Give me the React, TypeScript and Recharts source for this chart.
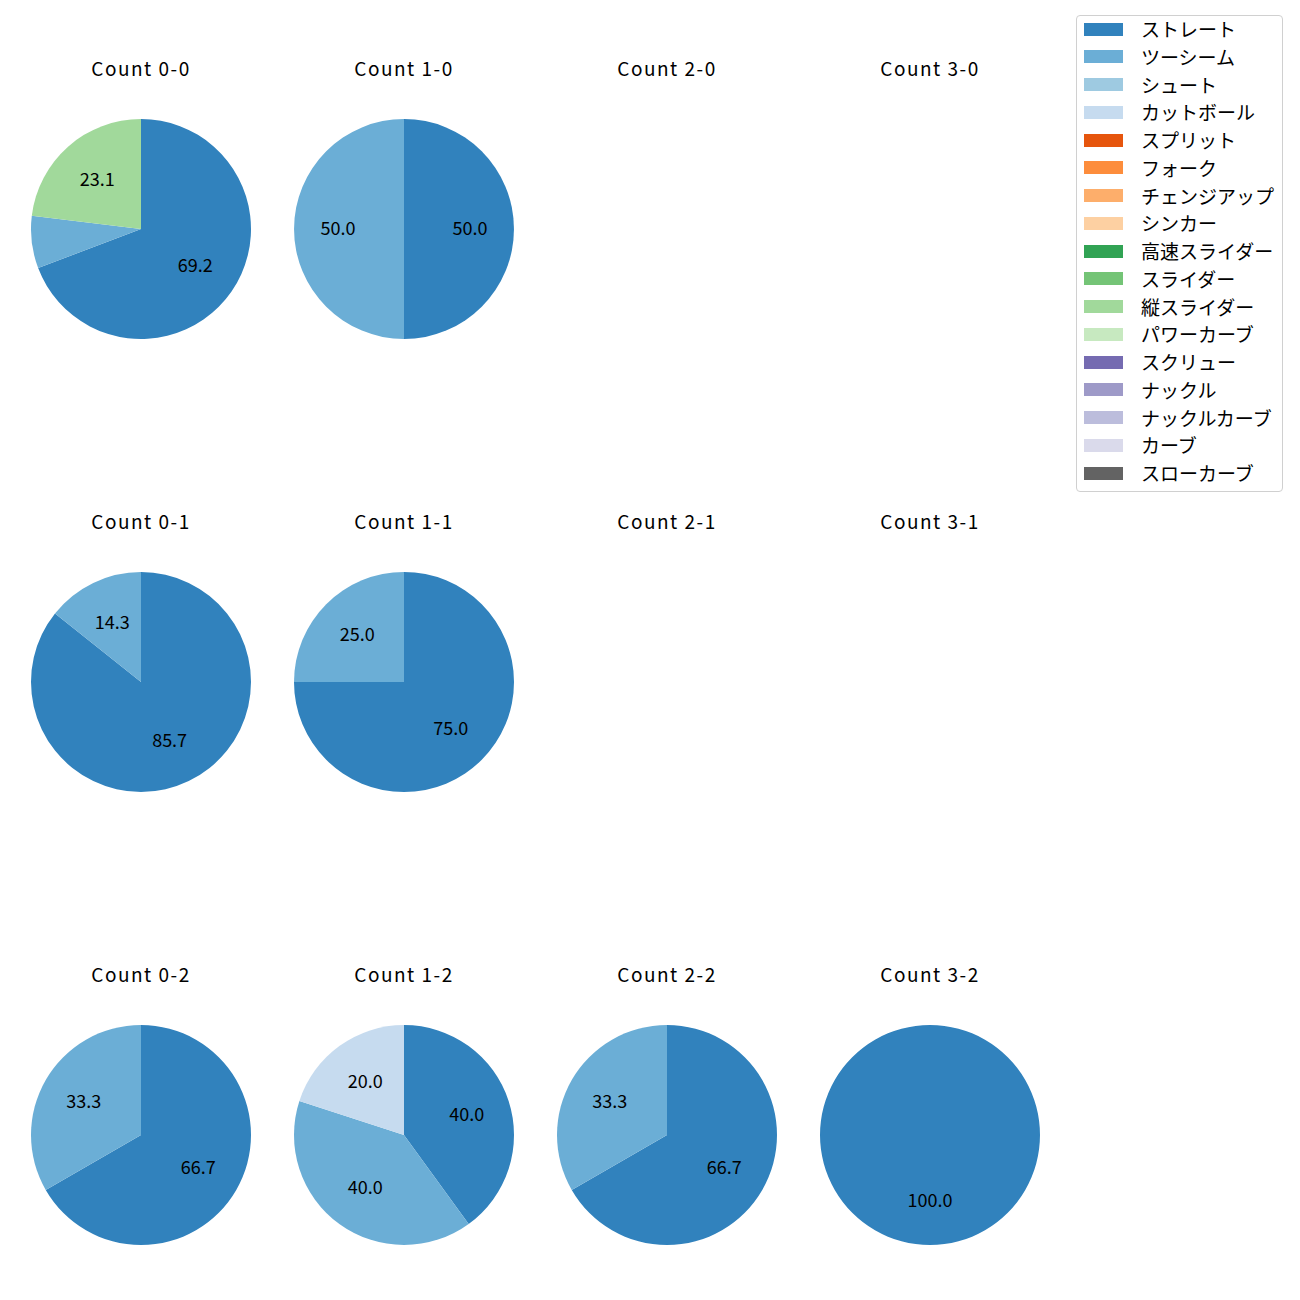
import React from "react";
import { PieChart, Pie, Cell } from "recharts";

// pitch types, legend order
const pitchTypes = [
  "ストレート", "ツーシーム", "シュート", "カットボール", "スプリット", "フォーク",
  "チェンジアップ", "シンカー", "高速スライダー", "スライダー", "縦スライダー",
  "パワーカーブ", "スクリュー", "ナックル", "ナックルカーブ", "カーブ", "スローカーブ",
];
const pitchColors = [
  "#3182bd", "#6baed6", "#9ecae1", "#c6dbef", "#e6550d", "#fd8d3c",
  "#fdae6b", "#fdd0a2", "#31a354", "#74c476", "#a1d99b", "#c7e9c0",
  "#756bb1", "#9e9ac8", "#bcbddc", "#dadaeb", "#636363",
];

// counts per ball-strike situation: [pitch type, count]
type Slice = { type: string; value: number };
const count00: Slice[] = [
  { type: "ストレート", value: 9 },
  { type: "ツーシーム", value: 1 },
  { type: "縦スライダー", value: 3 },
];
const count10: Slice[] = [
  { type: "ストレート", value: 1 },
  { type: "ツーシーム", value: 1 },
];
const count20: Slice[] = [];
const count30: Slice[] = [];
const count01: Slice[] = [
  { type: "ストレート", value: 6 },
  { type: "ツーシーム", value: 1 },
];
const count11: Slice[] = [
  { type: "ストレート", value: 3 },
  { type: "ツーシーム", value: 1 },
];
const count21: Slice[] = [];
const count31: Slice[] = [];
const count02: Slice[] = [
  { type: "ストレート", value: 2 },
  { type: "ツーシーム", value: 1 },
];
const count12: Slice[] = [
  { type: "ストレート", value: 2 },
  { type: "ツーシーム", value: 2 },
  { type: "カットボール", value: 1 },
];
const count22: Slice[] = [
  { type: "ストレート", value: 2 },
  { type: "ツーシーム", value: 1 },
];
const count32: Slice[] = [{ type: "ストレート", value: 1 }];

const panels = [
  { title: "Count 0-0", data: count00 },
  { title: "Count 1-0", data: count10 },
  { title: "Count 2-0", data: count20 },
  { title: "Count 3-0", data: count30 },
  { title: "Count 0-1", data: count01 },
  { title: "Count 1-1", data: count11 },
  { title: "Count 2-1", data: count21 },
  { title: "Count 3-1", data: count31 },
  { title: "Count 0-2", data: count02 },
  { title: "Count 1-2", data: count12 },
  { title: "Count 2-2", data: count22 },
  { title: "Count 3-2", data: count32 },
];

const FONT = "'Noto Sans CJK JP', 'Noto Sans', sans-serif";
const RAD = Math.PI / 180;
const R = 110;
const SIZE = 240;

const renderLabel = (p: any) => {
  if (p.percent < 0.1) return null;
  const r = p.outerRadius * 0.6;
  const x = p.cx + r * Math.cos(-p.midAngle * RAD);
  const y = p.cy + r * Math.sin(-p.midAngle * RAD) - 2;
  return (
    <text x={x} y={y} textAnchor="middle" dominantBaseline="central"
      fontSize={18} fontFamily={FONT} fill="#000">
      {(p.percent * 100).toFixed(1)}
    </text>
  );
};

export default function App() {
  return (
    <div style={{ position: "absolute", left: 0, top: 0, width: 1300, height: 1300, background: "#fff", fontFamily: FONT }}>
      {panels.map((pn, i) => {
        const col = i % 4;
        const row = Math.floor(i / 4);
        const cx = 141 + col * 263;
        const cy = 229 + row * 453;
        return (
          <React.Fragment key={pn.title}>
            <div style={{
              position: "absolute", left: cx - 100, top: cy - 161 - 14, width: 200,
              textAlign: "center", fontSize: 19, lineHeight: "28px", letterSpacing: "1.5px", color: "#000",
            }}>{pn.title}</div>
            {pn.data.length > 0 && (
              <div style={{ position: "absolute", left: cx - SIZE / 2, top: cy - SIZE / 2 }}>
                <PieChart width={SIZE} height={SIZE} margin={{ top: 0, right: 0, bottom: 0, left: 0 }}>
                  <Pie data={pn.data} dataKey="value" nameKey="type" cx="50%" cy="50%"
                    outerRadius={R} startAngle={90} endAngle={-270} stroke="none"
                    labelLine={false} label={renderLabel} isAnimationActive={false}>
                    {pn.data.map((d) => (
                      <Cell key={d.type} fill={pitchColors[pitchTypes.indexOf(d.type)]} />
                    ))}
                  </Pie>
                </PieChart>
              </div>
            )}
          </React.Fragment>
        );
      })}
      <div style={{
        position: "absolute", left: 1076, top: 15, width: 205, height: 475,
        border: "1px solid #d0d0d0", borderRadius: 4, background: "#fff",
      }}>
        {pitchTypes.map((t, i) => (
          <div key={t} style={{ position: "absolute", left: 0, top: 13 + i * 27.75 - 14, height: 28 }}>
            <div style={{ position: "absolute", left: 7, top: 7.5, width: 39, height: 13, background: pitchColors[i] }} />
            <span style={{ position: "absolute", left: 64, top: 0, fontSize: 19, lineHeight: "28px", whiteSpace: "nowrap", color: "#000" }}>{t}</span>
          </div>
        ))}
      </div>
    </div>
  );
}
